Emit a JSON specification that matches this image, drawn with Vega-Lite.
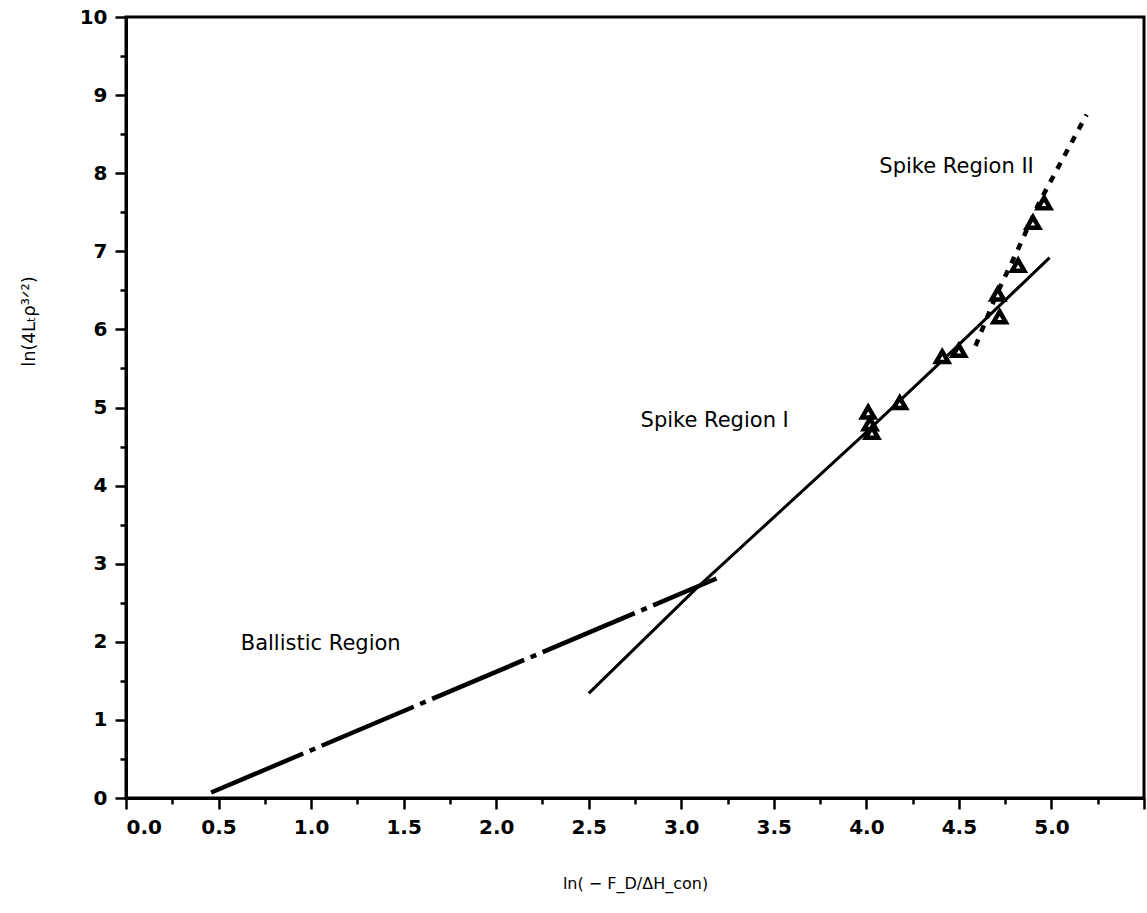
{
  "$schema": "https://vega.github.io/schema/vega-lite/v6.json",
  "width": 1018,
  "height": 781,
  "autosize": "none",
  "padding": {"left": 126, "top": 17, "right": 3, "bottom": 115},
  "background": "white",
  "config": {
    "view": {"stroke": "black", "strokeWidth": 3},
    "font": "DejaVu Sans",
    "axis": {
      "domainColor": "black", "domainWidth": 3, "tickColor": "black", "tickWidth": 2.5,
      "labelColor": "black", "labelFont": "DejaVu Sans", "labelFontWeight": "bold", "labelFontSize": 20,
      "titleColor": "black", "titleFont": "DejaVu Sans", "titleFontWeight": "normal", "titleFontSize": 16,
      "grid": false
    }
  },
  "datasets": {
    "ballistic": [{"x": 0.46, "y": 0.07}, {"x": 3.19, "y": 2.81}],
    "spike1": [{"x": 2.5, "y": 1.34}, {"x": 3.08, "y": 2.68}, {"x": 3.98, "y": 4.64}, {"x": 4.41, "y": 5.6}, {"x": 4.99, "y": 6.92}],
    "spike2": [{"x": 4.59, "y": 5.79}, {"x": 4.7, "y": 6.43}, {"x": 4.82, "y": 7.03}, {"x": 4.935, "y": 7.63}, {"x": 5.19, "y": 8.75}],
    "points": [
      {"x": 4.01, "y": 4.94}, {"x": 4.02, "y": 4.79}, {"x": 4.03, "y": 4.68},
      {"x": 4.18, "y": 5.06}, {"x": 4.41, "y": 5.65}, {"x": 4.5, "y": 5.73},
      {"x": 4.71, "y": 6.45}, {"x": 4.72, "y": 6.16}, {"x": 4.82, "y": 6.82},
      {"x": 4.9, "y": 7.37}, {"x": 4.96, "y": 7.62}
    ],
    "labels": [
      {"x": 4.07, "y": 8.08, "text": "Spike Region II"},
      {"x": 2.78, "y": 4.83, "text": "Spike Region I"},
      {"x": 0.62, "y": 1.97, "text": "Ballistic Region"}
    ]
  },
  "encoding": {
    "x": {
      "field": "x", "type": "quantitative",
      "scale": {"domain": [0, 5.5], "nice": false, "zero": false},
      "axis": {
        "title": "ln( − F_D/ΔH_con)",
        "values": [0, 0.25, 0.5, 0.75, 1, 1.25, 1.5, 1.75, 2, 2.25, 2.5, 2.75, 3, 3.25, 3.5, 3.75, 4, 4.25, 4.5, 4.75, 5, 5.25, 5.5],
        "labelExpr": "(datum.value % 0.5 == 0 && datum.value < 5.4) ? format(datum.value, '.1f') : ''",
        "tickSize": {"condition": {"test": "datum.value % 0.5 == 0", "value": 11}, "value": 6},
        "labelPadding": 8,
        "titlePadding": 38
      }
    },
    "y": {
      "field": "y", "type": "quantitative",
      "scale": {"domain": [0, 10], "nice": false, "zero": false},
      "axis": {
        "title": "ln(4Lₜρ³ᐟ²)",
        "titleFontSize": 18,
        "values": [0, 0.5, 1, 1.5, 2, 2.5, 3, 3.5, 4, 4.5, 5, 5.5, 6, 6.5, 7, 7.5, 8, 8.5, 9, 9.5, 10],
        "labelExpr": "datum.value % 1 == 0 ? format(datum.value, 'd') : ''",
        "tickSize": {"condition": {"test": "datum.value % 1 == 0", "value": 11}, "value": 6},
        "labelPadding": 8,
        "titleX": -88,
        "titleY": 304
      }
    }
  },
  "layer": [
    {
      "data": {"name": "ballistic"},
      "mark": {"type": "line", "color": "black", "strokeWidth": 4.5, "strokeDash": [100, 7, 6, 7]}
    },
    {
      "data": {"name": "spike1"},
      "mark": {"type": "line", "color": "black", "strokeWidth": 3}
    },
    {
      "data": {"name": "spike2"},
      "mark": {"type": "line", "color": "black", "strokeWidth": 4.5, "strokeDash": [7, 8]}
    },
    {
      "data": {"name": "points"},
      "mark": {"type": "point", "shape": "triangle-up", "size": 150, "filled": false, "fill": "white", "fillOpacity": 1, "stroke": "black", "strokeWidth": 4.5, "opacity": 1}
    },
    {
      "data": {"name": "labels"},
      "mark": {"type": "text", "align": "left", "baseline": "middle", "font": "DejaVu Sans", "fontSize": 21, "color": "black"},
      "encoding": {"text": {"field": "text"}}
    }
  ]
}
